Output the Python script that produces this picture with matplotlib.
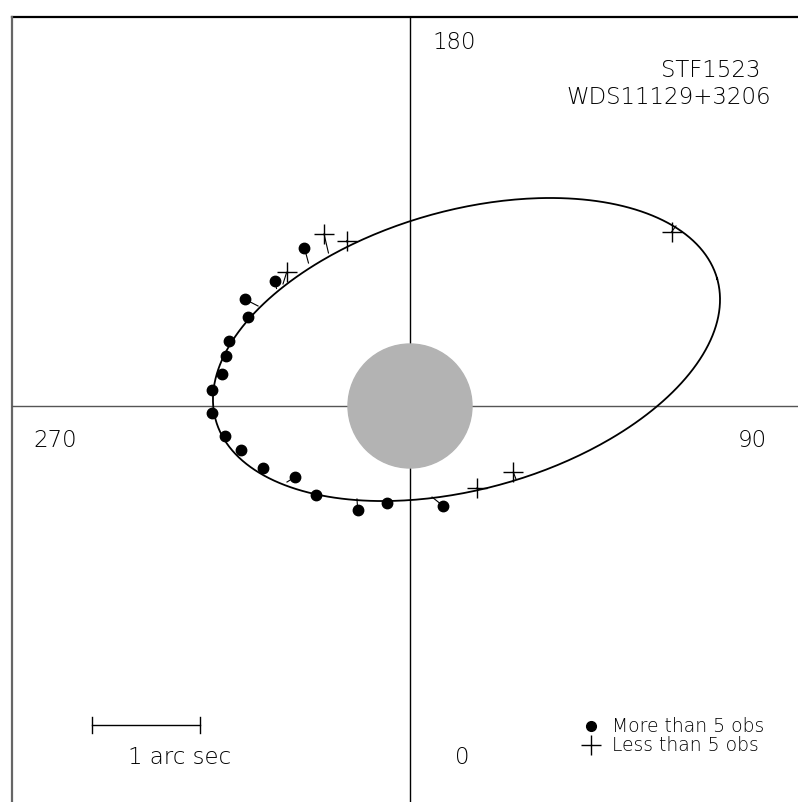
import numpy as np
import matplotlib
matplotlib.use("Agg")
import matplotlib.pyplot as plt
from matplotlib.patches import Circle

# offsets from the primary in arc sec (x to the east / right, y up on the page)
dot_x = [-0.978, -1.250, -1.528, -1.503, -1.673, -1.704, -1.744, -1.830, -1.836,
         -1.713, -1.565, -1.358, -1.062, -0.870, -0.484, -0.213, 0.308]
dot_y = [1.466, 1.157, 0.988, 0.827, 0.602, 0.466, 0.296, 0.148, -0.062,
         -0.278, -0.407, -0.571, -0.655, -0.824, -0.963, -0.898, -0.926]
# computed positions on the orbit for those observations (O-C lines)
dot_cx = [-0.940, -1.236, -1.407, -1.500, -1.667, -1.722, -1.769, -1.815, -1.815,
          -1.722, -1.574, -1.352, -1.139, -0.870, -0.491, -0.222, 0.204]
dot_cy = [1.324, 1.088, 0.926, 0.815, 0.611, 0.472, 0.296, 0.148, -0.056,
          -0.278, -0.435, -0.593, -0.704, -0.796, -0.861, -0.880, -0.843]

plus_x = [-0.796, -0.586, -1.142, 0.623, 0.957, 2.423]
plus_y = [1.593, 1.530, 1.238, -0.756, -0.614, 1.614]
plus_cx = [-0.755, -0.583, -1.176, 0.620, 0.981, 2.463]
plus_cy = [1.417, 1.519, 1.130, -0.759, -0.676, 1.667]

# apparent ellipse: centre, semi axes (arc sec), tilt (deg)
orb_x0, orb_y0 = 0.523, 0.523
orb_a, orb_b = 2.412, 1.289
orb_tilt = 15.77
primary_r = 0.574

pa_labels = ["180", "90", "0", "270"]

fig = plt.figure(figsize=(7.98, 8.02), dpi=100)
ax = fig.add_axes([0, 0, 1, 1])
ax.set_xlim(-410 / 108, 388 / 108)
ax.set_ylim(-396 / 108, 406 / 108)
ax.set_aspect("equal")
ax.axis("off")

# frame (top and left edges only visible) and crosshair
left, top = -3.685, 3.602
ax.plot([left, 4], [top, top], color="black", lw=1.6)
ax.plot([left, left], [top, -4], color="#666666", lw=1.6)
ax.plot([0, 0], [top, -4], color="black", lw=1.0)
ax.plot([left, 4], [0, 0], color="#555555", lw=1.0)

# primary
ax.add_patch(Circle((0, 0), primary_r, color="#b3b3b3", zorder=2))

# orbit
t = np.linspace(0, 2 * np.pi, 400)
phi = np.radians(orb_tilt)
ex = orb_x0 + orb_a * np.cos(t) * np.cos(phi) - orb_b * np.sin(t) * np.sin(phi)
ey = orb_y0 + orb_a * np.cos(t) * np.sin(phi) + orb_b * np.sin(t) * np.cos(phi)
ax.plot(ex, ey, color="black", lw=1.3, zorder=3)

# O-C lines
for x, y, cx, cy in zip(dot_x + plus_x, dot_y + plus_y, dot_cx + plus_cx, dot_cy + plus_cy):
    ax.plot([x, cx], [y, cy], color="black", lw=0.8, zorder=3)

ax.plot(dot_x, dot_y, "o", color="black", ms=7.5, zorder=4)
ax.plot(plus_x, plus_y, "+", color="black", ms=14, mew=1.0, zorder=4)

txt = dict(fontsize=16.5, color="black", ha="center", va="center",
           family="DejaVu Sans", fontweight="light")
ax.text(0.407, 3.370, pa_labels[0], **txt)
ax.text(3.167, -0.315, pa_labels[1], **txt)
ax.text(0.481, -3.259, pa_labels[2], **txt)
ax.text(-3.287, -0.315, pa_labels[3], **txt)
ax.text(2.787, 3.111, "STF1523", **txt)
ax.text(2.398, 2.852, "WDS11129+3206", **txt)

# scale bar
bar_y = -2.954
ax.plot([-2.944, -1.944], [bar_y, bar_y], color="black", lw=1.0)
ax.plot([-2.944, -2.944], [bar_y - 0.07, bar_y + 0.07], color="black", lw=1.0)
ax.plot([-1.944, -1.944], [bar_y - 0.07, bar_y + 0.07], color="black", lw=1.0)
ax.text(-2.130, -3.259, "1 arc sec", **txt)

# legend
ax.plot([1.676], [-2.963], "o", color="black", ms=7)
ax.plot([1.676], [-3.139], "+", color="black", ms=14, mew=1.0)
leg = dict(fontsize=13.5, color="black", ha="left", va="center",
           family="DejaVu Sans", fontweight="light")
ax.text(1.870, -2.963, "More than 5 obs", **leg)
ax.text(1.870, -3.139, "Less than 5 obs", **leg)

fig.savefig("out.png", dpi=100)
